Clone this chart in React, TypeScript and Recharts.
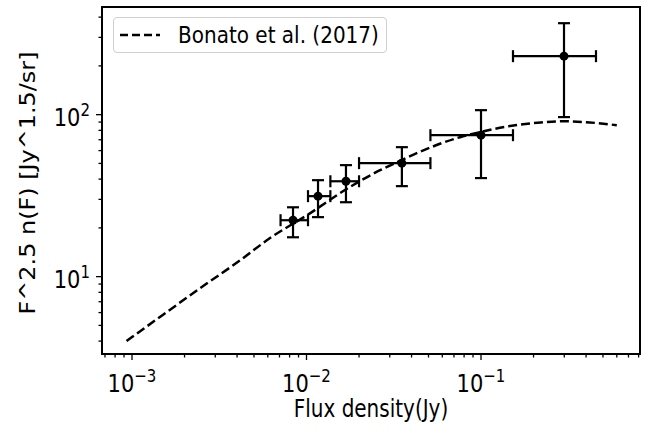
import React from 'react'
import {
  ComposedChart,
  Line,
  Scatter,
  ErrorBar,
  XAxis,
  YAxis,
  ReferenceArea,
  Legend,
} from 'recharts'

const FONT = '"DejaVu Sans", sans-serif'
const STRETCH = 1.2 // the source image is a bit taller than wide

// Bonato et al. (2017) model
const modelFlux = [0.00093, 0.0015, 0.0025, 0.00416, 0.00618, 0.0101, 0.0173, 0.0264, 0.0352, 0.0447, 0.0758, 0.0986, 0.157, 0.22, 0.303, 0.42, 0.6]
const modelCounts = [4.0, 5.8, 8.6, 12.6, 17.3, 24.0, 35.2, 45.4, 52.5, 59.0, 72.6, 78.0, 86.1, 89.5, 91.1, 89.5, 86.1]

// measured counts, with bin edges and count errors
const binFlux = [0.00837, 0.01164, 0.01683, 0.0352, 0.1, 0.299]
const binEdges = [0.0071, 0.0102, 0.0137, 0.02, 0.0513, 0.1525, 0.456]
const binCounts = [22.3, 31.4, 38.8, 50.2, 74.7, 229.7]
const countLow = [17.5, 23.3, 28.8, 36.2, 40.6, 96.6]
const countHigh = [26.8, 39.4, 48.8, 63.0, 106.6, 367]

const xTicks = [
  0.0007, 0.0008, 0.0009, 0.001, 0.002, 0.003, 0.004, 0.005, 0.006, 0.007, 0.008, 0.009,
  0.01, 0.02, 0.03, 0.04, 0.05, 0.06, 0.07, 0.08, 0.09,
  0.1, 0.2, 0.3, 0.4, 0.5, 0.6, 0.7, 0.8,
]
const yTicks = [4, 5, 6, 7, 8, 9, 10, 20, 30, 40, 50, 60, 70, 80, 90, 100, 200, 300, 400]

const X_DOMAIN: [number, number] = [6.73e-4, 0.815]
const Y_DOMAIN: [number, number] = [3.33, 462]

const model = modelFlux.map((flux, i) => ({ flux, value: modelCounts[i] }))
const bins = binFlux.map((flux, i) => ({
  flux,
  value: binCounts[i],
  xErr: [flux - binEdges[i], binEdges[i + 1] - flux],
  yErr: [binCounts[i] - countLow[i], countHigh[i] - binCounts[i]],
}))

const isDecade = (v: number) => {
  const l = Math.log10(v)
  return Math.abs(l - Math.round(l)) < 1e-6
}

const expLabel = (v: number) => {
  const e = Math.round(Math.log10(v))
  return e < 0 ? '\u2212' + Math.abs(e) : String(e)
}

// stretch text vertically about its baseline
const tall = (y: number) => `matrix(1 0 0 ${STRETCH} 0 ${-(STRETCH - 1) * y})`

function XTick({ x, y, payload }: any) {
  const major = isDecade(payload.value)
  const by = y + 38
  return (
    <g>
      <line x1={x} y1={y} x2={x} y2={y + (major ? 6 : 3.5)} stroke="#000" strokeWidth={1.3} />
      {major && (
        <text x={x} y={by} transform={tall(by)} textAnchor="middle" fontFamily={FONT} fontSize={21} fill="#000">
          10<tspan dy={-8} fontSize={15}>{expLabel(payload.value)}</tspan>
        </text>
      )}
    </g>
  )
}

function YTick({ x, y, payload }: any) {
  const major = isDecade(payload.value)
  const by = y + 11
  return (
    <g>
      <line x1={x - (major ? 6 : 3.5)} y1={y} x2={x} y2={y} stroke="#000" strokeWidth={1.3} />
      {major && (
        <text x={x - 12} y={by} transform={tall(by)} textAnchor="end" fontFamily={FONT} fontSize={21} fill="#000">
          10<tspan dy={-8} fontSize={15}>{expLabel(payload.value)}</tspan>
        </text>
      )}
    </g>
  )
}

function PointDot({ cx, cy }: any) {
  return <circle cx={cx} cy={cy} r={4.5} fill="#000" />
}

function BonatoLegend() {
  return (
    <div
      style={{
        boxSizing: 'border-box',
        width: 274,
        height: 36,
        border: '1px solid #d0d0d0',
        borderRadius: 4,
        background: '#fff',
        display: 'flex',
        alignItems: 'center',
        fontFamily: FONT,
        fontSize: 20,
        color: '#000',
        whiteSpace: 'nowrap',
      }}
    >
      <svg width={64} height={20} style={{ flex: 'none' }}>
        <line x1={6} y1={10} x2={46} y2={10} stroke="#000" strokeWidth={2.5} strokeDasharray="8 4" />
      </svg>
      <span style={{ display: 'inline-block', transform: 'scaleY(1.15)' }}>Bonato et al. (2017)</span>
    </div>
  )
}

export default function App() {
  return (
    <div style={{ position: 'absolute', left: 0, top: 0, background: '#fff' }}>
      <ComposedChart width={655} height={434} margin={{ top: 7, right: 15, bottom: 30, left: 42 }}>
        <XAxis
          dataKey="flux"
          type="number"
          scale="log"
          domain={X_DOMAIN}
          allowDataOverflow
          ticks={xTicks}
          interval={0}
          tick={<XTick />}
          tickLine={false}
          tickSize={0}
          tickMargin={0}
          axisLine={false}
          height={50}
          label={{
            content: () => (
              <text x={371} y={417} transform={tall(417)} textAnchor="middle" fontFamily={FONT} fontSize={20} fill="#000">
                Flux density(Jy)
              </text>
            ),
          }}
        />
        <YAxis
          dataKey="value"
          type="number"
          scale="log"
          domain={Y_DOMAIN}
          allowDataOverflow
          ticks={yTicks}
          interval={0}
          tick={<YTick />}
          tickLine={false}
          tickSize={0}
          tickMargin={0}
          axisLine={false}
          width={60}
          label={{
            content: () => (
              <text
                x={0}
                y={0}
                transform="translate(28 183) scale(1 1.14) rotate(-90)"
                textAnchor="middle"
                dominantBaseline="central"
                fontFamily={FONT}
                fontSize={21}
                fill="#000"
              >
                F^2.5 n(F) [Jy^1.5/sr]
              </text>
            ),
          }}
        />
        <Legend
          layout="horizontal"
          verticalAlign="middle"
          align="center"
          wrapperStyle={{ left: 113, top: 17, width: 274, height: 36 }}
          content={<BonatoLegend />}
        />
        <Line
          data={model}
          dataKey="value"
          type="monotone"
          stroke="#000"
          strokeWidth={2.5}
          strokeDasharray="9 4"
          dot={false}
          activeDot={false}
          isAnimationActive={false}
        />
        <Scatter data={bins} dataKey="value" fill="#000" shape={<PointDot />} isAnimationActive={false}>
          <ErrorBar dataKey="xErr" direction="x" width={6} stroke="#000" strokeWidth={2.2} isAnimationActive={false} />
          <ErrorBar dataKey="yErr" direction="y" width={6} stroke="#000" strokeWidth={2.2} isAnimationActive={false} />
        </Scatter>
        <ReferenceArea
          x1={X_DOMAIN[0]}
          x2={X_DOMAIN[1]}
          y1={Y_DOMAIN[0]}
          y2={Y_DOMAIN[1]}
          fill="none"
          stroke="#000"
          strokeWidth={2}
          ifOverflow="visible"
        />
      </ComposedChart>
    </div>
  )
}
